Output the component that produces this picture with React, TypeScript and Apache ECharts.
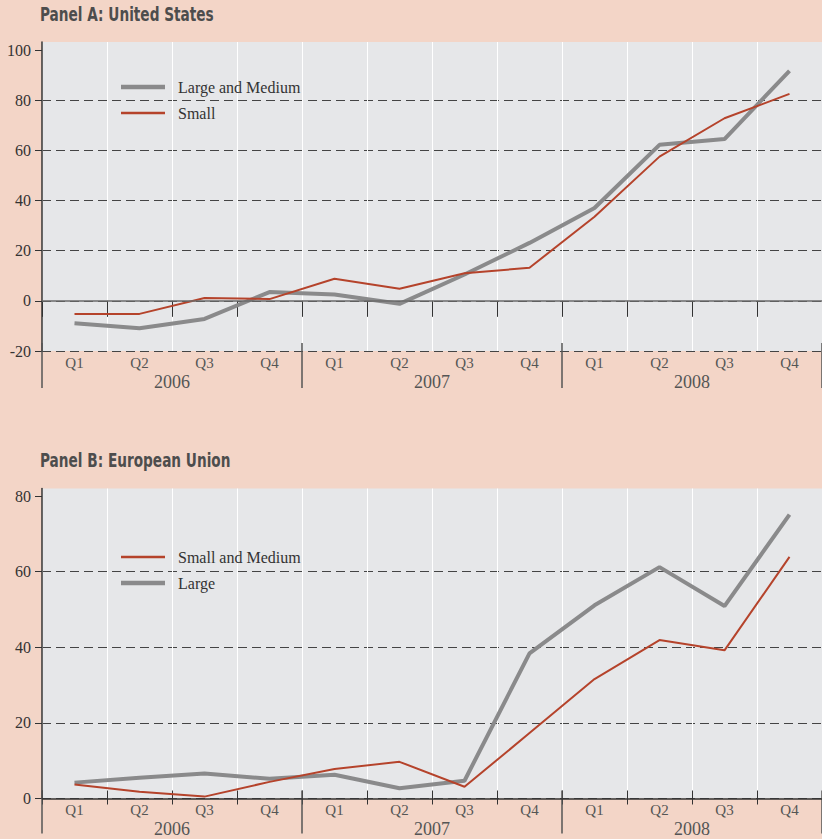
import React, { useEffect, useRef } from "react";
import * as echarts from "echarts";

const quarters = ["Q1", "Q2", "Q3", "Q4", "Q1", "Q2", "Q3", "Q4", "Q1", "Q2", "Q3", "Q4"];
const years = ["2006", "2007", "2008"];

const usLargeMedium = [-8.9, -10.9, -7.2, 3.5, 2.5, -1.2, 10.5, 23.1, 37.0, 62.2, 64.5, 91.7];
const usSmall = [-5.2, -5.2, 1.1, 0.7, 8.8, 4.8, 11.0, 13.2, 33.5, 57.5, 72.8, 82.5];

const euSmallMedium = [3.7, 1.8, 0.5, 4.4, 7.8, 9.7, 3.1, 17.3, 31.6, 41.9, 39.2, 63.9];
const euLarge = [4.2, 5.5, 6.6, 5.2, 6.3, 2.7, 4.7, 38.4, 51.1, 61.2, 50.9, 75.1];

const yTicksA = [-20, 0, 20, 40, 60, 80, 100];
const yTicksB = [0, 20, 40, 60, 80];

const SERIF = "'Liberation Serif', 'DejaVu Serif', serif";
const TITLE_FONT = "'DejaVu Sans Condensed', 'DejaVu Sans', sans-serif";
const GRAY = "#8a8a8b";
const RED = "#b5432b";
const THICK_ICON = "path://M0 0H44V4.5H0Z";
const THIN_ICON = "path://M0 0H44V2.5H0Z";

function quarterAxis(gridIndex: number) {
  return {
    gridIndex,
    type: "category",
    position: "bottom",
    data: quarters,
    boundaryGap: true,
    offset: -8,
    axisLine: { show: false },
    axisTick: { show: true, interval: 0, length: gridIndex === 0 ? 16 : 14, lineStyle: { color: "#333", width: 1 } },
    axisLabel: { interval: 0, margin: 12, color: "#555", fontFamily: SERIF, fontSize: 15 },
    splitLine: { show: true, interval: 0, lineStyle: { color: "#ffffff", width: 1 } },
  };
}

function yearAxis(gridIndex: number) {
  return {
    gridIndex,
    type: "category",
    position: "bottom",
    data: years,
    boundaryGap: true,
    offset: -8,
    axisLine: { show: false },
    axisTick: { show: true, interval: 0, length: gridIndex === 0 ? 45 : 43, lineStyle: { color: "#555", width: 1.5 } },
    axisLabel: { interval: 0, margin: gridIndex === 0 ? 30 : 29, color: "#555", fontFamily: SERIF, fontSize: 18 },
    splitLine: { show: false },
  };
}

function valueAxis(gridIndex: number, min: number, max: number, ticks: number[]) {
  return {
    gridIndex,
    type: "value",
    min,
    max,
    interval: 20,
    axisLine: { show: true, lineStyle: { color: "#333", width: 1.5 } },
    axisTick: { show: true, length: 7, customValues: ticks, lineStyle: { color: "#333", width: 1 } },
    axisLabel: {
      customValues: ticks,
      margin: 11,
      color: "#333",
      fontFamily: SERIF,
      fontSize: 16,
      formatter: (v: number) => (ticks.indexOf(Math.round(v * 10) / 10) >= 0 ? String(v) : ""),
    },
    splitLine: { show: true, showMaxLine: false, lineStyle: { type: [9, 5], color: "#444", width: 1 } },
  };
}

function legend(top: number, items: { name: string; icon: string }[]) {
  return {
    left: 121,
    top,
    padding: 0,
    orient: "vertical",
    data: items,
    itemWidth: 44,
    itemHeight: 16,
    itemGap: 10,
    textStyle: { fontFamily: SERIF, fontSize: 16, color: "#333", padding: [0, 0, 0, 8], lineHeight: 16 },
  };
}

export default function App() {
  const ref = useRef<HTMLDivElement>(null);
  useEffect(() => {
    if (!ref.current) return;
    const chart = echarts.init(ref.current, null, { renderer: "svg" });
    const option: any = {
      animation: false,
      backgroundColor: "#f3d5c7",
      graphic: [
        {
          type: "text",
          x: 40,
          y: 14,
          scaleX: 0.76,
          style: {
            text: "Panel A: United States",
            fontFamily: TITLE_FONT,
            fontWeight: "bold",
            fontSize: 20,
            fill: "#4d4d4d",
            verticalAlign: "middle",
          },
        },
        {
          type: "text",
          x: 40,
          y: 460,
          scaleX: 0.76,
          style: {
            text: "Panel B: European Union",
            fontFamily: TITLE_FONT,
            fontWeight: "bold",
            fontSize: 20,
            fill: "#4d4d4d",
            verticalAlign: "middle",
          },
        },
      ],
      legend: [
        legend(79, [
          { name: "Large and Medium", icon: THICK_ICON },
          { name: "Small", icon: THIN_ICON },
        ]),
        legend(549, [
          { name: "Small and Medium", icon: THIN_ICON },
          { name: "Large", icon: THICK_ICON },
        ]),
      ],
      grid: [
        { left: 42, top: 42, right: -5, height: 309, show: true, backgroundColor: "#e6e7e9", borderWidth: 0 },
        { left: 42, top: 488.5, right: -5, height: 310, show: true, backgroundColor: "#e6e7e9", borderWidth: 0 },
      ],
      xAxis: [quarterAxis(0), yearAxis(0), quarterAxis(1), yearAxis(1)],
      yAxis: [valueAxis(0, -20, 103.2, yTicksA), valueAxis(1, 0, 82, yTicksB)],
      series: [
        {
          name: "Large and Medium",
          type: "line",
          xAxisIndex: 0,
          yAxisIndex: 0,
          data: usLargeMedium,
          symbol: "none",
          lineStyle: { color: GRAY, width: 4 },
          itemStyle: { color: GRAY },
          markLine: {
            silent: true,
            symbol: "none",
            label: { show: false },
            lineStyle: { color: "#6a6a6a", width: 1.5, type: "solid" },
            data: [{ yAxis: 0 }],
          },
        },
        {
          name: "Small",
          type: "line",
          xAxisIndex: 0,
          yAxisIndex: 0,
          data: usSmall,
          symbol: "none",
          lineStyle: { color: RED, width: 2 },
          itemStyle: { color: RED },
        },
        {
          name: "Large",
          type: "line",
          xAxisIndex: 2,
          yAxisIndex: 1,
          data: euLarge,
          symbol: "none",
          lineStyle: { color: GRAY, width: 4 },
          itemStyle: { color: GRAY },
          markLine: {
            silent: true,
            symbol: "none",
            label: { show: false },
            lineStyle: { color: "#333", width: 1.5, type: "solid" },
            data: [{ yAxis: 0 }],
          },
        },
        {
          name: "Small and Medium",
          type: "line",
          xAxisIndex: 2,
          yAxisIndex: 1,
          data: euSmallMedium,
          symbol: "none",
          lineStyle: { color: RED, width: 2 },
          itemStyle: { color: RED },
        },
      ],
    };
    chart.setOption(option);
    return () => chart.dispose();
  }, []);
  return (
    <div
      ref={ref}
      style={{ position: "fixed", left: 0, top: 0, width: 822, height: 839 }}
    />
  );
}
